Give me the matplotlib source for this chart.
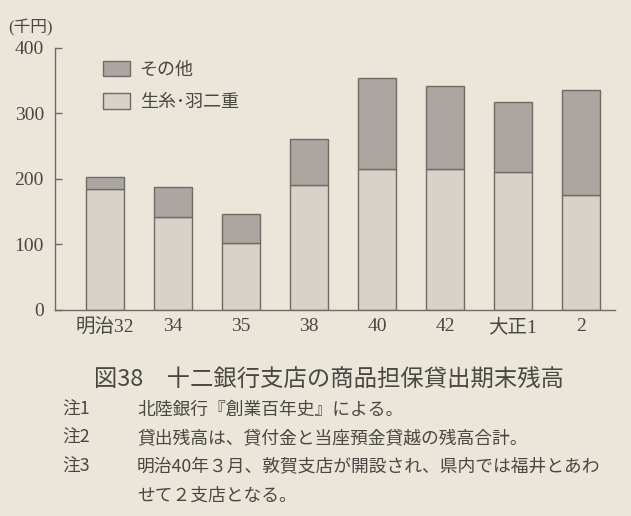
import matplotlib
matplotlib.use('Agg')
import matplotlib.pyplot as plt

# data (千円)
years = ['明治32', '34', '35', '38', '40', '42', '大正1', '2']
silk = [185, 142, 102, 191, 215, 215, 210, 176]      # 生糸・羽二重
other = [18, 45, 45, 70, 138, 127, 107, 159]         # その他
yticks = [0, 100, 200, 300, 400]

title = '図38　十二銀行支店の商品担保貸出期末残高'
notes = [('注1', '北陸銀行『創業百年史』による。'),
         ('注2', '貸出残高は、貸付金と当座預金貸越の残高合計。'),
         ('注3', '明治40年３月、敦賀支店が開設され、県内では福井とあわ'),
         ('', 'せて２支店となる。')]

bg = '#ebe6da'
light = '#d7d3c9'
dark = '#aba69f'
edge = '#6f6b66'
ink = '#4a4643'

plt.rcParams['font.family'] = ['Noto Sans CJK JP', 'DejaVu Sans']
serif = ['Liberation Serif', 'Noto Sans CJK JP']

W, H = 631, 516
fig = plt.figure(figsize=(W / 100, H / 100), dpi=100, facecolor=bg)
ax = fig.add_axes([55 / W, 1 - 310 / H, 560 / W, 262.5 / H])
ax.set_facecolor(bg)

x = range(len(years))
b1 = ax.bar(x, silk, width=0.56, color=light, edgecolor=edge, linewidth=1.0,
            label='生糸･羽二重')
b2 = ax.bar(x, other, bottom=silk, width=0.56, color=dark, edgecolor=edge,
            linewidth=1.0, label='その他')

ax.set_xlim(-0.74, 7.5)
ax.set_ylim(0, 400)
ax.set_yticks(yticks)
ax.set_xticks(list(x))
ax.set_xticklabels(years, family=serif, fontsize=14, color=ink)
ax.set_yticklabels([str(v) for v in yticks], family=serif, fontsize=14, color=ink)
ax.tick_params(axis='y', direction='in', length=5, width=1, color=edge, pad=8)
ax.tick_params(axis='x', length=0, pad=6)
for s in ['top', 'right']:
    ax.spines[s].set_visible(False)
for s in ['left', 'bottom']:
    ax.spines[s].set_color(edge)
    ax.spines[s].set_linewidth(1.0)

leg = ax.legend(handles=[b2, b1], loc='upper left', bbox_to_anchor=(0.085, 0.95),
                frameon=False, fontsize=13, borderpad=0, borderaxespad=0,
                handlelength=1.5, handleheight=0.95, handletextpad=0.55,
                labelspacing=0.8)
for t in leg.get_texts():
    t.set_color(ink)

fig.text(8 / W, 1 - 28 / H, '(千円)', family=serif, fontsize=12, color=ink,
         va='center', ha='left')

fig.text(329 / W, 1 - 380 / H, title, fontsize=16.8, color=ink, ha='center', va='center')
ys = [410, 438, 467, 496]
for (lab, txt), yy in zip(notes, ys):
    if lab:
        fig.text(62 / W, 1 - yy / H, lab, fontsize=12.8, color=ink, va='center')
    fig.text(137 / W, 1 - yy / H, txt, fontsize=12.8, color=ink, va='center')

fig.savefig('out.png', dpi=100, facecolor=bg)
